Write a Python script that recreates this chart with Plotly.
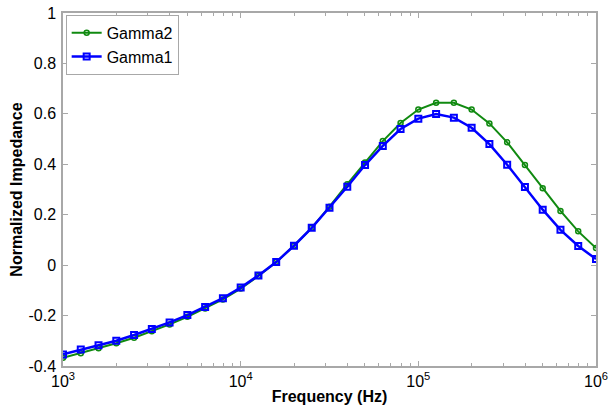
import plotly.graph_objects as go

freq = [10 ** (3 + k / 10) for k in range(31)]

gamma2 = [-0.367, -0.349, -0.330, -0.310, -0.288, -0.262, -0.235, -0.205, -0.172, -0.136,
          -0.093, -0.043, 0.012, 0.077, 0.148, 0.232, 0.321, 0.407, 0.492, 0.564,
          0.617, 0.644, 0.644, 0.617, 0.562, 0.487, 0.397, 0.305, 0.215, 0.134, 0.068]
gamma1 = [-0.354, -0.335, -0.318, -0.300, -0.277, -0.253, -0.227, -0.198, -0.166, -0.131,
          -0.089, -0.041, 0.012, 0.077, 0.148, 0.228, 0.311, 0.397, 0.473, 0.540,
          0.581, 0.599, 0.585, 0.545, 0.480, 0.398, 0.310, 0.220, 0.140, 0.076, 0.024]

x_tickvals = [1e3, 1e4, 1e5, 1e6]
x_ticktext = ["10<sup>3</sup>", "10<sup>4</sup>", "10<sup>5</sup>", "10<sup>6</sup>"]
x_minor = [m * 10 ** d for d in (3, 4, 5) for m in range(2, 10)]
y_tickvals = [-0.4, -0.2, 0, 0.2, 0.4, 0.6, 0.8, 1]
y_ticktext = ["-0.4", "-0.2", "0", "0.2", "0.4", "0.6", "0.8", "1"]

fig = go.Figure()
fig.add_trace(go.Scatter(x=freq, y=gamma2, name="Gamma2", mode="lines+markers",
                         line=dict(color="#108a10", width=2),
                         marker=dict(symbol="circle-open", size=5, color="#108a10",
                                     line=dict(width=1.5))))
fig.add_trace(go.Scatter(x=freq, y=gamma1, name="Gamma1", mode="lines+markers",
                         line=dict(color="#0000ff", width=2.5),
                         marker=dict(symbol="square-open", size=6, color="#0000ff",
                                     line=dict(width=2))))

axis_common = dict(showline=True, linecolor="#a8a8a8", linewidth=1.5, mirror="ticks",
                   ticks="inside", tickcolor="#a8a8a8", ticklen=5, showgrid=False,
                   zeroline=False, automargin=False,
                   tickfont=dict(family="Arial", size=16, color="black"))

fig.update_xaxes(type="log", range=[3, 6], tickvals=x_tickvals, ticktext=x_ticktext,
                 minor=dict(ticks="inside", tickvals=x_minor, ticklen=3, tickcolor="#a8a8a8",
                            showgrid=False),
                 title=dict(text="<b>Frequency (Hz)</b>", font=dict(family="Arial", size=16, color="black"),
                            standoff=2),
                 **axis_common)
fig.update_yaxes(range=[-0.4, 1], tickvals=y_tickvals, ticktext=y_ticktext, ticklabelstandoff=2,
                 title=dict(text="<b>Normalized Impedance</b>", font=dict(family="Arial", size=16, color="black"),
                            standoff=2),
                 **axis_common)

fig.update_layout(width=610, height=411, margin=dict(l=63, r=14, t=13, b=45),
                  paper_bgcolor="white", plot_bgcolor="white", showlegend=True,
                  legend=dict(x=0.005, y=0.995, xanchor="left", yanchor="top",
                              bgcolor="white", bordercolor="#a8a8a8", borderwidth=1,
                              font=dict(family="Arial", size=16, color="black"),
                              itemwidth=30, tracegroupgap=0))

fig.write_html("out.html", config={"displayModeBar": False},
               post_script="document.body.style.margin='0';")
